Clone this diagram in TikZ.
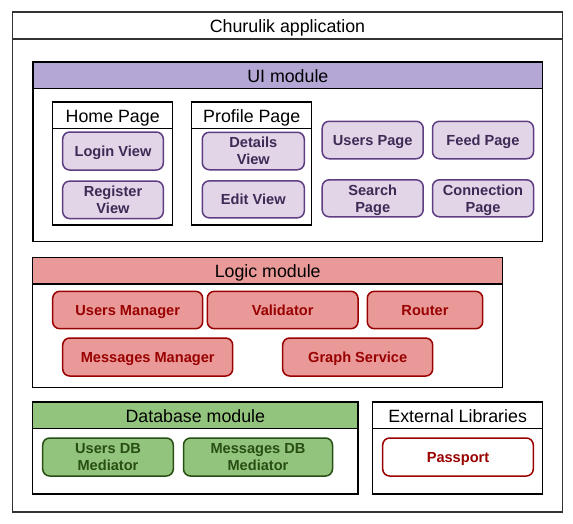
\documentclass[tikz,border=0pt]{standalone}
\usepackage{fontspec}
\setmainfont{Liberation Sans}
\definecolor{frameC}{HTML}{333333}
\definecolor{uiHead}{HTML}{B4A7D6}
\definecolor{uiFill}{HTML}{E1D5E7}
\definecolor{uiStroke}{HTML}{5E3D82}
\definecolor{uiText}{HTML}{3F2A56}
\definecolor{lgHead}{HTML}{EA9999}
\definecolor{lgStroke}{HTML}{990000}
\definecolor{dbHead}{HTML}{93C47D}
\definecolor{dbStroke}{HTML}{274E13}
\newcommand{\titlefont}{\fontsize{17.8}{21}\selectfont}
\newcommand{\labelfont}{\fontsize{14.6}{17}\selectfont\bfseries}
\begin{document}
\begin{tikzpicture}[x=1pt,y=-1pt,
  body/.style={draw=black, line width=1.5pt, fill=white, inner sep=0pt, anchor=center},
  head/.style={draw=black, line width=1.5pt, inner sep=0pt, anchor=center,
    font=\titlefont, text=black, text height=14pt, text depth=0pt},
  comp/.style={rounded corners=7pt, line width=1.5pt, font=\labelfont,
    align=center, inner sep=0pt, anchor=center},
  oneline/.style={text height=10.5pt, text depth=0pt},
  uibox/.style={comp, draw=uiStroke, fill=uiFill, text=uiText},
  lgbox/.style={comp, oneline, draw=lgStroke, fill=lgHead, text=lgStroke},
  dbbox/.style={comp, draw=dbStroke, fill=dbHead, text=dbStroke},
  extbox/.style={comp, oneline, draw=lgStroke, fill=white, text=lgStroke},
  sz/.style 2 args={minimum width=#1pt, minimum height=#2pt}
]
\useasboundingbox (0,0) rectangle (573,523);
\fill[white] (0,0) rectangle (573,523);

% application frame
\node[body, draw=frameC, line width=1.6pt, sz={550}{500}] (app) at (287.5,262) {};
\node[head, draw=frameC, line width=1.6pt, sz={550}{26.7}] (apptitle) at (287.5,25.35) {Churulik application};

% UI module
\node[body, sz={509.7}{179.7}] (ui) at (287.85,151.85) {};
\node[head, fill=uiHead, sz={509.7}{26.7}] (uititle) at (287.85,75.35) {UI module};

\node[body, line width=1.4pt, sz={120}{123}] (home) at (112.7,163.5) {};
\node[head, line width=1.4pt, fill=white, sz={120}{26.7}] (hometitle) at (112.7,115.35) {Home Page};
\node[body, line width=1.4pt, sz={120}{123}] (profile) at (251.7,163.5) {};
\node[head, line width=1.4pt, fill=white, sz={120}{26.7}] (profiletitle) at (251.7,115.35) {Profile Page};

\node[uibox, oneline, sz={100.6}{38}] (login) at (113,151) {Login View};
\node[uibox, sz={100.6}{37.5}] (register) at (113,199.85) {Register\\View};
\node[uibox, sz={102}{37.5}] (details) at (253.3,151) {Details\\View};
\node[uibox, oneline, sz={102}{37}] (edit) at (253.3,199.35) {Edit View};

\node[uibox, oneline, sz={101}{37.5}] (userspage) at (372.7,140) {Users Page};
\node[uibox, oneline, sz={101}{37.5}] (feed) at (483,140) {Feed Page};
\node[uibox, sz={101}{37}] (search) at (372.7,198.3) {Search\\Pa\smash{g}e};
\node[uibox, sz={101}{37}] (connection) at (483,198.3) {Connection\\Pa\smash{g}e};

% Logic module
\node[body, sz={470}{130}] (logic) at (267.7,322.3) {};
\node[head, fill=lgHead, sz={470}{26.7}] (logictitle) at (267.7,270.65) {Logic module};

\node[lgbox, sz={150}{37.4}] (usersmgr) at (127.7,310) {Users Manager};
\node[lgbox, sz={150.7}{37.4}] (validator) at (282.65,310) {Validator};
\node[lgbox, sz={115.4}{37.4}] (router) at (425,310) {Router};
\node[lgbox, sz={170}{38}] (msgmgr) at (147.7,357) {Messages Manager};
\node[lgbox, sz={150}{38}] (graph) at (357.7,357) {Graph Service};

% Database module
\node[body, sz={325.3}{92}] (db) at (195.35,448) {};
\node[head, fill=dbHead, sz={325.3}{26.7}] (dbtitle) at (195.35,415.35) {Database module};

\node[dbbox, sz={130.6}{38}] (usersdb) at (108,457) {Users DB\\Mediator};
\node[dbbox, sz={149}{38}] (msgdb) at (258,457) {Messages DB\\Mediator};

% External libraries
\node[body, sz={170}{92}] (ext) at (457.7,448) {};
\node[head, fill=white, sz={170}{26.7}] (exttitle) at (457.7,415.35) {External Libraries};

\node[extbox, sz={150.6}{38}] (passport) at (458,457) {Passport};
\end{tikzpicture}
\end{document}
